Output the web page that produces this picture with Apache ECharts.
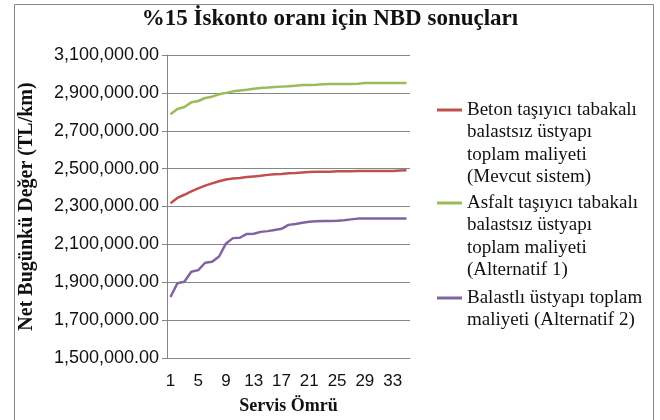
<!DOCTYPE html>
<html>
<head>
<meta charset="utf-8">
<script src="https://cdn.jsdelivr.net/npm/echarts@6/dist/echarts.min.js"></script>
<style>
  html, body { margin: 0; padding: 0; background: #fff; }
  #chart { width: 660px; height: 420px; }
</style>
</head>
<body>
<div id="chart"></div>
<script>
// years of service
const years = ['1','2','3','4','5','6','7','8','9','10','11','12','13','14','15','16','17','18',
  '19','20','21','22','23','24','25','26','27','28','29','30','31','32','33','34','35'];

// Beton taşıyıcı tabakalı (Mevcut sistem)
const betonData = [2317000, 2345000, 2362000, 2380000, 2396000, 2410000, 2422000, 2433000, 2443000,
  2448000, 2450000, 2456000, 2459000, 2462000, 2467000, 2470000, 2472000, 2475000, 2477000, 2480000,
  2482000, 2483000, 2483000, 2484000, 2486000, 2486000, 2486000, 2487000, 2487000, 2487000, 2488000,
  2488000, 2488000, 2490000, 2491000];

// Asfalt taşıyıcı tabakalı (Alternatif 1)
const asfaltData = [2787000, 2815000, 2825000, 2850000, 2857000, 2873000, 2880000, 2893000, 2900000,
  2908000, 2913000, 2917000, 2922000, 2926000, 2928000, 2931000, 2933000, 2935000, 2938000, 2941000,
  2942000, 2943000, 2945000, 2947000, 2947000, 2947000, 2947000, 2948000, 2952000, 2952000, 2952000,
  2952000, 2952000, 2952000, 2952000];

// Balastlı üstyapı (Alternatif 2)
const balastData = [1822000, 1895000, 1903000, 1955000, 1964000, 2003000, 2008000, 2036000, 2105000,
  2133000, 2135000, 2155000, 2156000, 2166000, 2170000, 2176000, 2182000, 2203000, 2208000, 2214000,
  2220000, 2222000, 2223000, 2224000, 2225000, 2228000, 2232000, 2236000, 2237000, 2237000, 2237000,
  2237000, 2237000, 2237000, 2237000];

const seriesNames = [
  'Beton taşıyıcı tabakalı balastsız üstyapı toplam maliyeti (Mevcut sistem)',
  'Asfalt taşıyıcı tabakalı balastsız üstyapı toplam maliyeti (Alternatif 1)',
  'Balastlı üstyapı toplam maliyeti (Alternatif 2)'
];
const legendLines = [
  ['Beton taşıyıcı tabakalı', 'balastsız üstyapı', 'toplam maliyeti', '(Mevcut sistem)'],
  ['Asfalt taşıyıcı tabakalı', 'balastsız üstyapı', 'toplam maliyeti', '(Alternatif 1)'],
  ['Balastlı üstyapı toplam', 'maliyeti (Alternatif 2)']
];
const colors = ['#c0504d', '#9bbb59', '#8064a2'];

const serif = 'Liberation Serif';
const sans = 'Liberation Sans';
const lineH = 22.5;
const iconY = [110, 203, 298];

// one legend per item; blank lines in front keep the marker on the first text line
const legends = seriesNames.map((name, i) => {
  const n = legendLines[i].length;
  return {
    data: [name],
    orient: 'vertical',
    left: 437,
    top: iconY[i] - ((2 * n - 1) * lineH) / 2,
    padding: 0,
    icon: 'rect',
    itemWidth: 25,
    itemHeight: 3,
    selectedMode: false,
    formatter: () => '\n'.repeat(n - 1) + legendLines[i].join('\n'),
    textStyle: {
      fontFamily: serif,
      fontSize: 19,
      lineHeight: lineH,
      color: '#111'
    }
  };
});

const chart = echarts.init(document.getElementById('chart'));
chart.setOption({
  animation: false,
  backgroundColor: '#fff',
  color: colors,
  title: {
    text: '%15 İskonto oranı için NBD sonuçları',
    left: 'center',
    top: 3,
    textStyle: { fontFamily: serif, fontWeight: 'bold', fontSize: 23, color: '#111' }
  },
  graphic: [{
    type: 'rect',
    shape: { x: 14.5, y: 4.5, width: 639, height: 430 },
    style: { fill: 'none', stroke: '#868686', lineWidth: 1 },
    silent: true
  }],
  legend: legends,
  grid: { left: 167, right: 250, top: 55, bottom: 59 },
  xAxis: {
    type: 'category',
    data: years,
    boundaryGap: true,
    name: 'Servis Ömrü',
    nameLocation: 'middle',
    nameGap: 39,
    nameTextStyle: { fontFamily: serif, fontWeight: 'bold', fontSize: 18, color: '#111' },
    axisLine: { lineStyle: { color: '#868686', width: 1 } },
    axisTick: { show: false },
    axisLabel: { interval: 3, margin: 15, fontFamily: sans, fontSize: 17, color: '#111' },
    splitLine: { show: false }
  },
  yAxis: {
    type: 'value',
    min: 1500000,
    max: 3100000,
    interval: 200000,
    name: 'Net Bugünkü Değer (TL/km)',
    nameLocation: 'middle',
    nameGap: 130,
    nameTextStyle: { fontFamily: serif, fontWeight: 'bold', fontSize: 20, color: '#111' },
    axisLine: { show: true, lineStyle: { color: '#868686', width: 1 } },
    axisTick: { show: true, length: 5, lineStyle: { color: '#868686' } },
    axisLabel: {
      margin: 8,
      fontFamily: sans,
      fontSize: 18,
      color: '#111',
      formatter: v => v.toLocaleString('en-US', { minimumFractionDigits: 2, maximumFractionDigits: 2 })
    },
    splitLine: { lineStyle: { color: '#868686', width: 1 } }
  },
  series: [
    { name: seriesNames[0], type: 'line', data: betonData, symbol: 'none', lineStyle: { width: 2.5 } },
    { name: seriesNames[1], type: 'line', data: asfaltData, symbol: 'none', lineStyle: { width: 2.5 } },
    { name: seriesNames[2], type: 'line', data: balastData, symbol: 'none', lineStyle: { width: 2.5 } }
  ]
});
</script>
</body>
</html>
